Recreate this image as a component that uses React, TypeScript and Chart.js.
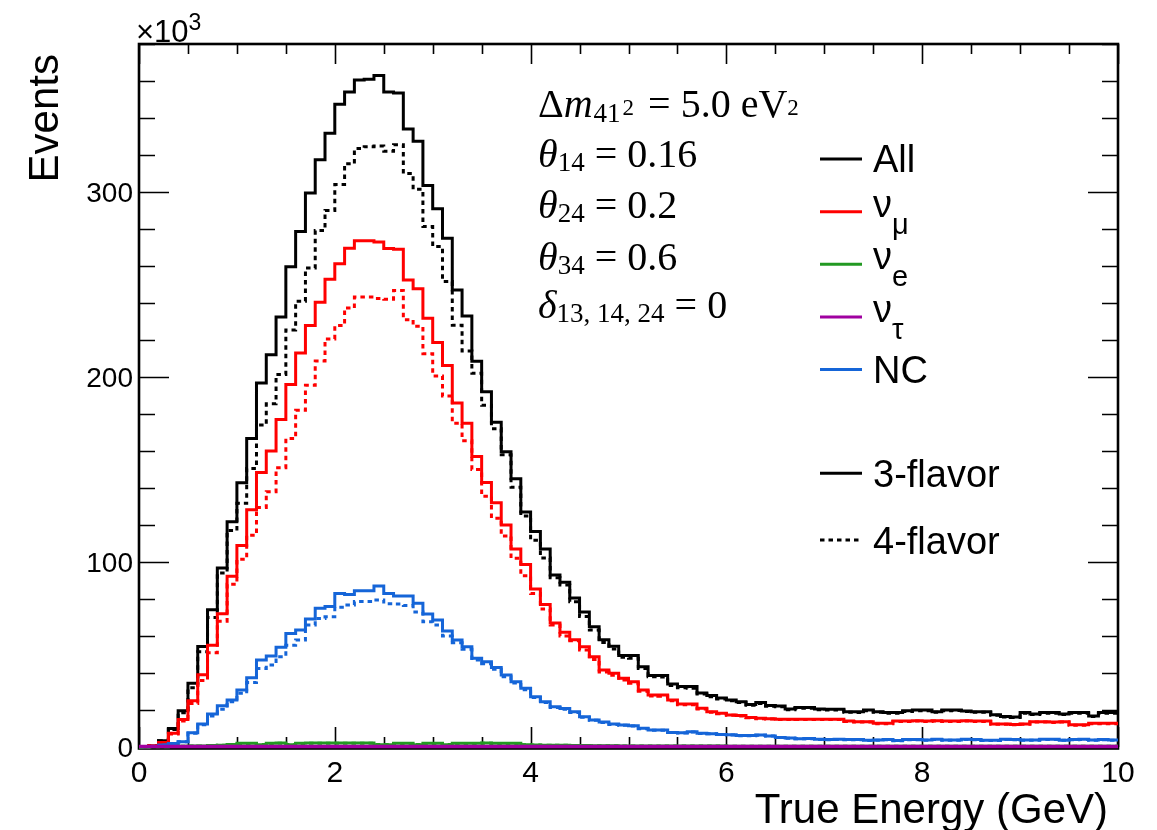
import React, { useEffect, useRef } from "react";
import { Chart, registerables } from "chart.js";

Chart.register(...registerables);

// ---------------- data (events ×10^3 per 0.1 GeV bin, 0–10 GeV) ----------------
const X_MIN = 0;
const X_MAX = 10;
const Y_MAX = 380;

const allSolid = [
  0, 0.5, 3.4, 10, 19.6, 34.4, 54.3, 74.2, 96.7, 121.8,
  142.8, 166.7, 196.7, 212, 232.5, 259.6, 278.7, 299.5, 317.5, 331.8,
  347.4, 354, 360.5, 361, 363, 354, 353.5, 334, 327.5, 303.5,
  291, 275, 247, 233, 208.5, 192, 175.6, 159.6, 145, 127,
  116.5, 107, 93, 89, 80.5, 73, 65, 58, 54.4, 49.5,
  49.5, 43.4, 38.7, 38.7, 34, 32.7, 32.7, 29.2, 27.8, 26.5,
  25.4, 24.5, 23, 24, 22.4, 22.2, 20.6, 21.4, 21.4, 20.5,
  20.4, 20.4, 19.1, 19.1, 20, 19.1, 18.6, 18.6, 19.6, 20,
  20, 19.1, 20, 20, 19.5, 19.1, 19.1, 17.5, 16.5, 16.2,
  18.6, 17.9, 18.6, 18.6, 17.9, 18.6, 18.6, 16.7, 18.6, 18.6,
];
const allDotted = [
  0, 0.5, 3.4, 9.5, 18.5, 32, 51.5, 70, 94, 117,
  131.7, 150.6, 174, 185.5, 201.4, 225.4, 241, 258.9, 279.2, 290,
  304, 315.3, 323.5, 324.5, 324.8, 322, 325.5, 310, 301.5, 281.3,
  270.5, 251.6, 228, 214, 202, 184.7, 172, 158, 140.4, 124.9,
  111.7, 102.2, 91.5, 87.6, 78.5, 70.5, 63.2, 56.5, 53, 48.5,
  48, 42.5, 38, 37.8, 33.2, 32, 31.8, 28.6, 27.2, 26,
  25, 24, 22.6, 23.5, 22, 21.8, 20.2, 21, 21, 20.1,
  20, 20, 18.8, 18.7, 19.6, 18.8, 18.3, 18.3, 19.2, 19.6,
  19.6, 18.8, 19.6, 19.7, 19.2, 18.8, 18.8, 17.2, 16.2, 16,
  18.3, 17.6, 18.3, 18.3, 17.6, 18.3, 18.3, 16.5, 18.3, 18.3,
];
const numuSolid = [
  0, 0.5, 2.5, 7.5, 14.8, 25, 39, 55, 72, 92.3,
  108.9, 128.3, 148.4, 160, 177, 196, 213, 227.8, 240.4, 252.9,
  261.2, 269.6, 273.7, 273.7, 273, 269.5, 269, 252.5, 247.7, 231.7,
  218.7, 206.2, 186, 175, 157, 143, 132, 120, 107, 98.6,
  85.4, 77, 67, 62, 58, 54.2, 48.8, 41.6, 39.8, 37.1,
  35.3, 30.8, 28.1, 28.1, 25.4, 23.2, 23.2, 20.9, 19.1, 18.2,
  17.3, 17, 16, 15.5, 15.3, 15, 15, 15, 15, 15,
  15, 15, 14, 13.7, 13.7, 12.8, 12.8, 14, 14, 14.2,
  14, 14.2, 14, 14, 14.2, 14, 14, 12.5, 12.5, 12.2,
  12.5, 13.7, 13.7, 13.5, 13.7, 12, 12, 12.8, 12.8, 12.8,
];
const numuDotted = [
  0, 0.5, 2.3, 7, 14, 23.5, 36, 51, 68, 88,
  101.5, 114.5, 129.5, 138, 151, 166.7, 182, 195.5, 208.6, 220.6,
  227.8, 237.3, 243.3, 243.3, 242.5, 242, 246.8, 231, 227.4, 212.6,
  200.6, 189.7, 175, 165.5, 150, 135.6, 123.7, 114, 102, 92.6,
  83, 74.6, 66, 60, 57.5, 52.5, 47.3, 40.5, 38.8, 36.2,
  34.5, 30.2, 27.6, 27.5, 25, 22.8, 22.9, 20.6, 18.8, 18,
  17.1, 16.8, 15.8, 15.3, 15.1, 14.8, 14.9, 14.8, 14.8, 14.9,
  14.8, 14.8, 13.8, 13.5, 13.5, 12.6, 12.6, 13.8, 13.8, 14,
  13.8, 14, 13.8, 13.8, 14, 13.8, 13.8, 12.3, 12.3, 12,
  12.3, 13.5, 13.5, 13.3, 13.5, 11.8, 11.8, 12.6, 12.6, 12.6,
];
const nueSolid = [
  0, 0.1, 0.2, 0.3, 0.4, 0.5, 0.6, 0.8, 1.0, 1.3,
  2.0, 2.0, 1.2, 2.0, 2.1, 1.2, 2.0, 2.1, 2.1, 2.1,
  2.1, 2.1, 2.1, 2.1, 1.2, 1.2, 2.0, 2.0, 1.2, 2.0,
  2.0, 1.2, 2.0, 2.0, 2.0, 2.1, 2.0, 2.0, 2.0, 1.2,
  1.1, 1.0, 0.9, 0.9, 0.8, 0.8, 0.7, 0.7, 0.7, 0.6,
  0.6, 0.6, 0.6, 0.5, 0.5, 0.5, 0.5, 0.5, 0.5, 0.5,
  0.4, 0.4, 0.4, 0.4, 0.4, 0.4, 0.4, 0.4, 0.4, 0.4,
  0.4, 0.4, 0.4, 0.4, 0.4, 0.4, 0.4, 0.4, 0.4, 0.4,
  0.4, 0.4, 0.4, 0.4, 0.4, 0.4, 0.4, 0.4, 0.4, 0.4,
  0.4, 0.4, 0.4, 0.4, 0.4, 0.4, 0.4, 0.4, 0.4, 0.4,
];
const nueDotted = [
  0, 0.1, 0.2, 0.3, 0.4, 0.5, 0.6, 0.8, 1.0, 1.3,
  1.9, 1.9, 1.3, 1.9, 2.0, 1.3, 1.9, 2.0, 2.0, 2.0,
  2.0, 2.0, 2.0, 2.0, 1.3, 1.3, 1.9, 1.9, 1.3, 1.9,
  1.9, 1.3, 1.9, 1.9, 1.9, 2.0, 1.9, 1.9, 1.9, 1.2,
  1.1, 1.0, 0.9, 0.9, 0.8, 0.8, 0.7, 0.7, 0.7, 0.6,
  0.6, 0.6, 0.6, 0.5, 0.5, 0.5, 0.5, 0.5, 0.5, 0.5,
  0.4, 0.4, 0.4, 0.4, 0.4, 0.4, 0.4, 0.4, 0.4, 0.4,
  0.4, 0.4, 0.4, 0.4, 0.4, 0.4, 0.4, 0.4, 0.4, 0.4,
  0.4, 0.4, 0.4, 0.4, 0.4, 0.4, 0.4, 0.4, 0.4, 0.4,
  0.4, 0.4, 0.4, 0.4, 0.4, 0.4, 0.4, 0.4, 0.4, 0.4,
];
const nutauSolid = [
  0.3, 0.3, 0.3, 0.3, 0.3, 0.3, 0.3, 0.3, 0.3, 0.3,
  0.3, 0.3, 0.3, 0.3, 0.3, 0.3, 0.3, 0.3, 0.3, 0.3,
  0.3, 0.3, 0.3, 0.3, 0.3, 0.3, 0.3, 0.3, 0.3, 0.3,
  0.3, 0.3, 0.3, 0.3, 0.3, 0.3, 0.3, 0.3, 0.3, 0.3,
  0.3, 0.3, 0.3, 0.3, 0.3, 0.3, 0.3, 0.3, 0.3, 0.3,
  0.3, 0.3, 0.3, 0.3, 0.3, 0.3, 0.3, 0.3, 0.3, 0.3,
  0.3, 0.3, 0.3, 0.3, 0.3, 0.3, 0.3, 0.3, 0.3, 0.3,
  0.3, 0.3, 0.3, 0.3, 0.3, 0.3, 0.3, 0.3, 0.3, 0.3,
  0.3, 0.3, 0.3, 0.3, 0.3, 0.3, 0.3, 0.3, 0.3, 0.3,
  0.3, 0.3, 0.3, 0.3, 0.3, 0.3, 0.3, 0.3, 0.3, 0.3,
];
const ncSolid = [
  0, 0.3, 1.1, 1.9, 2.8, 7.7, 12.4, 17.8, 22.3, 25.4,
  30.8, 37.5, 47, 49.2, 53.9, 61.4, 63.2, 69.2, 75, 75.9,
  83, 82.5, 84.5, 84.5, 87, 83, 81.6, 81.6, 77.7, 71.9,
  68.6, 62.7, 57.8, 54.2, 48, 46.1, 43, 38.9, 35.3, 31.7,
  27.2, 24.5, 21.8, 20.8, 19, 16.4, 14.6, 13.5, 12.4, 11.9,
  11.5, 10.1, 9.2, 9.2, 7.9, 7.7, 8.3, 7.4, 7.2, 6.8,
  6.6, 6.2, 6.2, 6.5, 6, 5.2, 4.8, 4.5, 4.6, 4.2,
  4, 4.2, 4, 4, 3.6, 3.8, 4, 3.5, 4, 4,
  3.8, 4.2, 3.8, 3.8, 4.2, 4, 3.6, 3.6, 4.2, 4,
  3.8, 3.8, 4.2, 4.2, 3.7, 4, 4.2, 3.8, 4, 3.8,
];
const ncDotted = [
  0, 0.3, 1.1, 1.9, 2.8, 7.5, 12, 16.8, 20.4, 24.5,
  29, 34.8, 42.5, 44.3, 48.8, 55, 57.8, 66, 69.5, 70.4,
  75.5, 76.8, 78.6, 78.6, 79.5, 77.5, 77.3, 76.5, 73, 67.7,
  66, 60, 56.4, 52.8, 47, 45, 42, 38, 34.6, 31,
  26.7, 24, 21.4, 20.4, 18.7, 16.1, 14.4, 13.3, 12.2, 11.7,
  11.3, 9.9, 9, 9, 7.8, 7.6, 8.1, 7.3, 7.1, 6.7,
  6.5, 6.1, 6.1, 6.4, 5.9, 5.1, 4.7, 4.4, 4.5, 4.1,
  3.9, 4.1, 3.9, 3.9, 3.5, 3.7, 3.9, 3.4, 3.9, 3.9,
  3.7, 4.1, 3.7, 3.7, 4.1, 3.9, 3.5, 3.5, 4.1, 3.9,
  3.7, 3.7, 4.1, 4.1, 3.6, 3.9, 4.1, 3.7, 3.9, 3.7,
];

const xMajorTicks = [0, 2, 4, 6, 8, 10];
const xMinorStep = 0.5;
const yMajorTicks = [0, 100, 200, 300];
const yMinorStep = 20;

const xAxisTitle = "True Energy (GeV)";
const yAxisTitle = "Events";

const legendFlavours = ["All", "ν_μ", "ν_e", "ν_τ", "NC"];
const legendModels = ["3-flavor", "4-flavor"];

const COLORS = {
  all: "#000000",
  numu: "#ff0000",
  nue: "#229922",
  nutau: "#a000a0",
  nc: "#1565d8",
};

const SANS = '"Liberation Sans", Arial, Helvetica, sans-serif';
const SERIF = '"Liberation Serif", "Times New Roman", serif';

// ---------------- helpers ----------------
function toSteps(vals: number[]) {
  const n = vals.length;
  const w = (X_MAX - X_MIN) / n;
  const pts = vals.map((v, i) => ({ x: X_MIN + i * w, y: v }));
  pts.push({ x: X_MAX, y: vals[n - 1] });
  return pts;
}

type Run = { t: string; font: string; dy?: number; dx?: number };
function drawRuns(ctx: CanvasRenderingContext2D, x: number, y: number, runs: Run[]) {
  let cx = x;
  for (const r of runs) {
    ctx.font = r.font;
    cx += r.dx || 0;
    ctx.fillText(r.t, cx, y + (r.dy || 0));
    cx += ctx.measureText(r.t).width;
  }
}

const DOT = [4.5, 4];

const rootFrame = {
  id: "rootFrame",
  beforeDatasetsDraw(chart: any) {
    const { ctx, chartArea: a, scales } = chart;
    const xs = scales.x;
    const ys = scales.y;
    ctx.save();
    ctx.strokeStyle = "#000";
    ctx.lineWidth = 1.6;
    ctx.beginPath();
    for (let v = X_MIN; v <= X_MAX + 1e-9; v += xMinorStep) {
      const major = xMajorTicks.some((m) => Math.abs(m - v) < 1e-6);
      const len = major ? 20 : 10;
      const px = Math.round(xs.getPixelForValue(v)) + 0.5;
      ctx.moveTo(px, a.bottom);
      ctx.lineTo(px, a.bottom - len);
      ctx.moveTo(px, a.top);
      ctx.lineTo(px, a.top + len);
    }
    for (let v = 0; v <= Y_MAX + 1e-9; v += yMinorStep) {
      const major = yMajorTicks.some((m) => Math.abs(m - v) < 1e-6);
      const len = major ? 30 : 16;
      const py = Math.round(ys.getPixelForValue(v)) + 0.5;
      ctx.moveTo(a.left, py);
      ctx.lineTo(a.left + len, py);
      ctx.moveTo(a.right, py);
      ctx.lineTo(a.right - len, py);
    }
    ctx.stroke();
    ctx.lineWidth = 2.6;
    ctx.strokeRect(a.left, a.top, a.right - a.left, a.bottom + 1.5 - a.top);
    ctx.restore();
  },
  afterDraw(chart: any) {
    const { ctx, chartArea: a, scales } = chart;
    const xs = scales.x;
    const ys = scales.y;
    ctx.save();
    ctx.fillStyle = "#000";
    ctx.textBaseline = "alphabetic";

    // tick labels
    ctx.font = `30px ${SANS}`;
    ctx.textAlign = "center";
    for (const v of xMajorTicks) {
      ctx.fillText(String(v), xs.getPixelForValue(v), a.bottom + 35);
    }
    ctx.font = `28px ${SANS}`;
    ctx.textAlign = "right";
    for (const v of yMajorTicks) {
      ctx.fillText(String(v), a.left - 6, ys.getPixelForValue(v) + 10);
    }

    // exponent
    ctx.textAlign = "left";
    drawRuns(ctx, a.left - 3, 42, [
      { t: "×10", font: `31px ${SANS}` },
      { t: "3", font: `23px ${SANS}`, dy: -12 },
    ]);

    // axis titles
    ctx.font = `42px ${SANS}`;
    ctx.textAlign = "right";
    ctx.fillText(xAxisTitle, a.right - 10, 823);
    ctx.save();
    ctx.translate(58, a.top + 10);
    ctx.rotate(-Math.PI / 2);
    ctx.textAlign = "right";
    ctx.fillText(yAxisTitle, 0, 0);
    ctx.restore();

    // parameter annotation
    ctx.textAlign = "left";
    const big = `40px ${SERIF}`;
    const bigI = `italic 40px ${SERIF}`;
    const sub = `27px ${SERIF}`;
    const sup = `23px ${SERIF}`;
    const ax = 538;
    drawRuns(ctx, ax, 117, [
      { t: "Δ", font: big },
      { t: "m", font: bigI },
      { t: "41", font: sub, dy: 5, dx: 1 },
      { t: "2", font: sup, dy: -2, dx: 2 },
      { t: " = 5.0 eV", font: big, dx: 4 },
      { t: "2", font: sup, dy: -2 },
    ]);
    drawRuns(ctx, ax, 167, [
      { t: "θ", font: bigI },
      { t: "14", font: sub, dy: 4 },
      { t: " = 0.16", font: big },
    ]);
    drawRuns(ctx, ax, 218, [
      { t: "θ", font: bigI },
      { t: "24", font: sub, dy: 4 },
      { t: " = 0.2", font: big },
    ]);
    drawRuns(ctx, ax, 270, [
      { t: "θ", font: bigI },
      { t: "34", font: sub, dy: 4 },
      { t: " = 0.6", font: big },
    ]);
    drawRuns(ctx, ax, 318, [
      { t: "δ", font: bigI },
      { t: "13, 14, 24", font: sub, dy: 4 },
      { t: " = 0", font: big },
    ]);

    // legend
    const lx0 = 820;
    const lx1 = 862;
    const tx = 873;
    const flavourColors = [COLORS.all, COLORS.numu, COLORS.nue, COLORS.nutau, COLORS.nc];
    const rowY = [159, 211.7, 264.3, 317, 369.5];
    const lf = `38px ${SANS}`;
    const lsub = `29px ${SANS}`;
    legendFlavours.forEach((lab, i) => {
      ctx.strokeStyle = flavourColors[i];
      ctx.lineWidth = 3;
      ctx.setLineDash([]);
      ctx.beginPath();
      ctx.moveTo(lx0, rowY[i]);
      ctx.lineTo(lx1, rowY[i]);
      ctx.stroke();
      if (lab.includes("_")) {
        const [base, s] = lab.split("_");
        drawRuns(ctx, tx, rowY[i] + 5, [
          { t: base, font: lf },
          { t: s, font: lsub, dy: 17 },
        ]);
      } else {
        ctx.font = lf;
        ctx.fillText(lab, tx, rowY[i] + 13);
      }
    });
    const modelY = [473.3, 540];
    legendModels.forEach((lab, i) => {
      ctx.strokeStyle = "#000";
      ctx.lineWidth = 3;
      ctx.setLineDash(i === 0 ? [] : DOT);
      ctx.beginPath();
      ctx.moveTo(lx0, modelY[i]);
      ctx.lineTo(lx1, modelY[i]);
      ctx.stroke();
      ctx.setLineDash([]);
      ctx.font = lf;
      ctx.fillText(lab, tx, modelY[i] + 14);
    });
    ctx.restore();
  },
};

function ds(label: string, vals: number[], color: string, dotted: boolean, order: number, width = 3) {
  return {
    label,
    data: toSteps(vals),
    borderColor: color,
    backgroundColor: color,
    borderWidth: width,
    borderDash: dotted ? DOT : [],
    pointRadius: 0,
    stepped: true,
    fill: false,
    tension: 0,
    clip: false,
    order,
  };
}

export default function App() {
  const ref = useRef<HTMLCanvasElement | null>(null);
  useEffect(() => {
    if (!ref.current) return;
    const chart = new Chart(ref.current, {
      type: "line",
      data: {
        datasets: [
          ds("ν_τ 3-flavor", nutauSolid, COLORS.nutau, false, 0, 3.5),
          ds("ν_e 3-flavor", nueSolid, COLORS.nue, false, 1),
          ds("ν_e 4-flavor", nueDotted, COLORS.nue, true, 2),
          ds("NC 3-flavor", ncSolid, COLORS.nc, false, 3),
          ds("NC 4-flavor", ncDotted, COLORS.nc, true, 4),
          ds("ν_μ 3-flavor", numuSolid, COLORS.numu, false, 5),
          ds("ν_μ 4-flavor", numuDotted, COLORS.numu, true, 6),
          ds("All 3-flavor", allSolid, COLORS.all, false, 7),
          ds("All 4-flavor", allDotted, COLORS.all, true, 8),
        ] as any,
      },
      options: {
        animation: false,
        responsive: false,
        devicePixelRatio: 1,
        layout: { padding: { left: 139, top: 44, right: 39, bottom: 83 } },
        plugins: { legend: { display: false }, tooltip: { enabled: false } },
        scales: {
          x: { type: "linear", min: X_MIN, max: X_MAX, display: false },
          y: { type: "linear", min: 0, max: Y_MAX, display: false },
        },
      } as any,
      plugins: [rootFrame],
    });
    return () => chart.destroy();
  }, []);
  return (
    <div style={{ position: "absolute", left: 0, top: 0, width: 1157, height: 830, background: "#fff" }}>
      <canvas ref={ref} width={1157} height={830} />
    </div>
  );
}
